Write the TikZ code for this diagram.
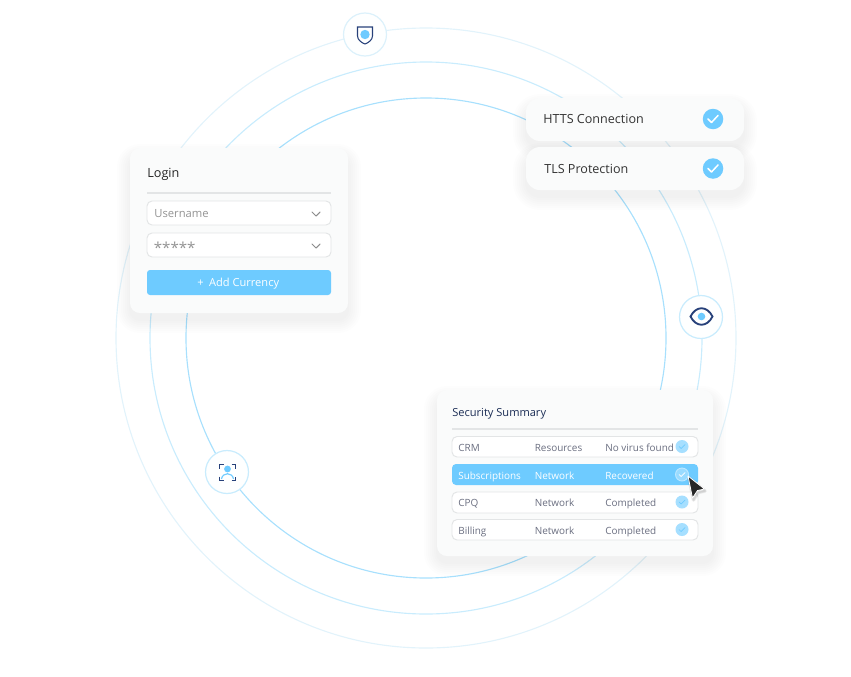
\documentclass[tikz,border=0pt]{standalone}
\usepackage{fontspec}
\setmainfont{Open Sans}
\definecolor{skyb}{HTML}{6ECBFF}
\definecolor{navy}{HTML}{27417A}
\definecolor{ringa}{HTML}{E2F3FB}
\definecolor{ringb}{HTML}{C9ECFD}
\definecolor{ringc}{HTML}{A8E0FD}
\definecolor{cardbg}{HTML}{FAFBFB}
\definecolor{lineg}{HTML}{E3E5E6}
\definecolor{rowtx}{HTML}{6A6E80}
\definecolor{softb}{HTML}{A6DFFF}
% soft shadow under a card: x1,y1,x2,y2,radius
\newcommand{\cardshadow}[5]{
  \foreach \s in {1,3,...,13}
    \fill[black,opacity=.009,rounded corners=#5+\s*0.02cm] (#1-\s,#2-\s+9) rectangle (#3+\s,#4+\s+7);
}
\tikzset{
  card/.style={fill=cardbg,rounded corners=#1},
  field/.style={draw=lineg,line width=.55pt,fill=white,rounded corners=5*0.02cm},
  badge/.style={circle,fill=#1,inner sep=0pt,minimum size=13*0.02cm},
  iconring/.style={circle,draw=ringa!75!ringb,line width=.7pt,fill=white!96!ringa,inner sep=0pt,minimum size=43*0.02cm},
  tx/.style={anchor=base west,inner sep=0pt},
  rowtext/.style={tx,text=rowtx,font=\fontsize{5.65}{7}\selectfont},
  whitetext/.style={tx,text=white,font=\fontsize{5.65}{7}\selectfont},
  tick/.style={draw=#1,line width=.6pt,line cap=round,line join=round}
}
\begin{document}
\begin{tikzpicture}[x=0.02cm,y=-0.02cm]
\useasboundingbox (0,0) rectangle (851,676);
% rings
\draw[ringa,line width=.65pt] (426,338) circle (310);
\draw[ringb,line width=.65pt] (426,338) circle (276);
\draw[ringc,line width=.65pt] (426,338) circle (240);
% login card
\cardshadow{130}{148}{348}{313}{10*0.02cm}
\path[card=10*0.02cm] (130,148) rectangle (348,313);
\node[tx,text=black!85,font=\fontsize{7.2}{9}\selectfont] (logintitle) at (147,177) {Login};
\draw[lineg,line width=.8pt] (147,193) -- (331,193);
\draw[field] (147,201) rectangle (331,225);
\draw[field] (147,233) rectangle (331,257);
\node[tx,text=black!42,font=\fontsize{6.4}{8}\selectfont] (username) at (154,217) {Username};
\node[tx,text=black!42,font=\fontsize{8.6}{8}\selectfont] (password) at (153.5,253.5) {*****};
\draw[tick=black!45] (312,212) -- (316,216) -- (320,212);
\draw[tick=black!45] (312,244) -- (316,248) -- (320,244);
\fill[skyb,rounded corners=3*0.02cm] (147,270) rectangle (331,295);
\node[tx,text=white,font=\fontsize{6.3}{8}\selectfont] (addbtn) at (197,286.5) {+\hspace{1.5pt} Add Currency};
% connection cards
\cardshadow{526}{98}{744}{141}{14*0.02cm}
\path[card=14*0.02cm] (526,98) rectangle (744,141);
\cardshadow{526}{147}{744}{190}{14*0.02cm}
\path[card=14*0.02cm] (526,147) rectangle (744,190);
\node[tx,text=black!80,font=\fontsize{7.15}{9}\selectfont] (https) at (543,123.5) {HTTS Connection};
\node[tx,text=black!80,font=\fontsize{7.15}{9}\selectfont] (tls) at (544,173) {TLS Protection};
\foreach \n/\y in {httpsok/119,tlsok/168.5}{
  \node[badge=skyb,minimum size=20.5*0.02cm] (\n) at (713,\y) {};
  \draw[tick=white,line width=.85pt] (708,\y) -- (711.5,\y+3.5) -- (718,\y-3.5);
}
% summary card
\cardshadow{437}{390}{713}{556}{10*0.02cm}
\path[card=10*0.02cm] (437,390) rectangle (713,556);
\node[tx,text=navy!70!black,font=\fontsize{6.3}{8}\selectfont] (sumtitle) at (452,416) {Security Summary};
\draw[lineg,line width=.8pt] (452,429) -- (698,429);
\draw[field] (452,436.5) rectangle (698,457);
\fill[skyb,rounded corners=4*0.02cm] (452,464) rectangle (698,485);
\draw[field] (452,492) rectangle (698,513);
\draw[field] (452,519.5) rectangle (698,540);
\foreach \n/\y/\a/\b/\c in {crm/451/CRM/Resources/No virus found,cpq/506.5/CPQ/Network/Completed,bil/534/Billing/Network/Completed}{
  \node[rowtext] (\n a) at (458,\y) {\a};
  \node[rowtext] (\n b) at (534.5,\y) {\b};
  \node[rowtext] (\n c) at (605,\y) {\c};
  \node[badge=softb] (\n ok) at (682,\y-4.5) {};
  \draw[tick=skyb,line width=.4pt] (679,\y-4.5) -- (681,\y-2.5) -- (685,\y-6.5);
}
\node[whitetext] (suba) at (458,479) {Subscriptions};
\node[whitetext] (subb) at (534.5,479) {Network};
\node[whitetext] (subc) at (605,479) {Recovered};
\node[badge=white!30!skyb,draw=white!55!skyb,line width=.5pt] (subok) at (682,474.5) {};
\draw[tick=white,line width=.4pt] (679,474.5) -- (681,476.5) -- (685,472.5);
% cursor
\foreach \s in {1,2,3}
  \draw[black,opacity=.06,line width=\s*.7pt,line join=round] (689,478) -- (705,491) -- (698,492.5) -- (693.5,500) -- cycle;
\draw[white,fill=black!85,line width=.45pt,line join=round] (688,476) -- (704.5,489) -- (697.5,490.5) -- (692.5,498) -- cycle;
% shield icon
\node[iconring] (shield) at (365,34.5) {};
\draw[navy,line width=.6pt,fill=white!96!ringa] (357.5,27) -- (372.5,27) -- (372.5,36) .. controls (372.5,40) and (368,43) .. (365,44) .. controls (362,43) and (357.5,40) .. (357.5,36) -- cycle;
\fill[skyb] (365,34.5) circle (4.7);
% eye icon
\node[iconring,draw=ringb] (eye) at (701,317) {};
\draw[navy,line width=1.05pt] (690.5,316.5) .. controls (696,305.5) and (707,305.5) .. (712.5,316.5) .. controls (707,327.5) and (696,327.5) .. (690.5,316.5) -- cycle;
\fill[skyb] (701.5,316.5) circle (3.8);
% face icon
\node[iconring,draw=ringb] (face) at (227,472) {};
\draw[navy,line width=.65pt]
  (219.5,468.5) -- (219.5,464.5) -- (223.5,464.5)
  (231.5,464.5) -- (235.5,464.5) -- (235.5,468.5)
  (219.5,476.5) -- (219.5,480.5) -- (223.5,480.5)
  (231.5,480.5) -- (235.5,480.5) -- (235.5,476.5);
\fill[skyb] (227.5,469) circle (3.4);
\draw[skyb,line width=.65pt] (221.5,479) .. controls (222.5,472) and (232.5,472) .. (233.5,479);
\end{tikzpicture}
\end{document}
